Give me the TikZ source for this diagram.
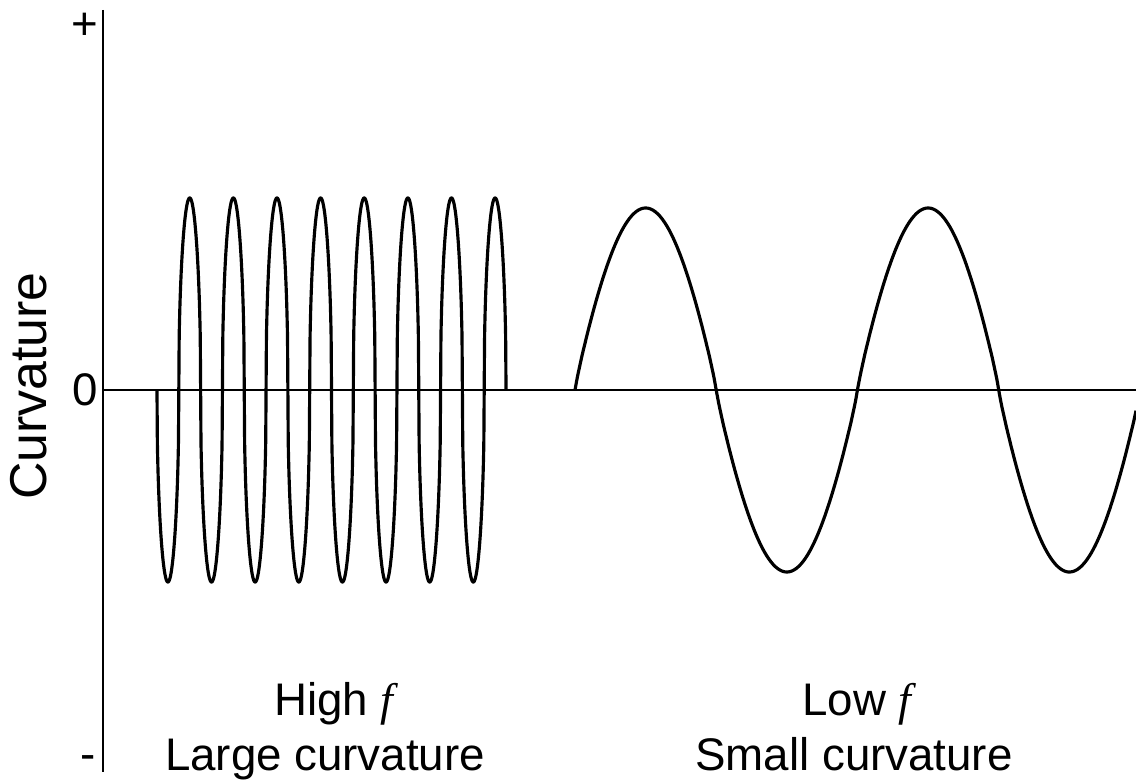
\documentclass[tikz,border=0pt]{standalone}
\usepackage{fontspec}
\setmainfont{Liberation Sans}
\newfontfamily\serifit{Liberation Serif}
\usepackage{tikz}
\usetikzlibrary{positioning}
\newcommand{\fsym}{{\serifit\itshape f}}

\begin{document}
\begin{tikzpicture}[x=0.02cm, y=0.02cm,
  declare function={pw(\s,\p)=sign(\s)*(abs(\s)+0.0001)^\p;},
  axis/.style={line width=1.6pt},
  wave/.style={line width=1.8pt, line join=round},
  lab/.style={font=\fontsize{26}{30}\selectfont, inner sep=0pt},
  captxt/.style={lab, anchor=base, align=center}]
\useasboundingbox (-103,-391) rectangle (1033,390);
% axes
\coordinate (ytop) at (0,380);
\coordinate (ybot) at (0,-382);
\coordinate (xl) at (0,0);
\coordinate (xr) at (1033,0);
\draw[axis] (ytop) -- (ybot);
\draw[axis] (xl) -- (xr);
\node[lab] (plus) at (-18,364) {+};
\node[lab] (zero) at (-18,0) {0};
\node[lab] (minus) at (-15,-373) {-};
\node[lab, font=\fontsize{29.5}{32}\selectfont, rotate=90] (ylab) at (-74,4)
  {Curvature};
% waves, plotted over the phase (high f: 8 periods, low f: 2 periods)
\draw[wave] plot[domain=0:2880, samples=961, smooth]
  ({54+\x*0.121181}, {-192*pw(sin(\x),0.45)});
\draw[wave] plot[domain=0:714.9, samples=239, smooth]
  ({472+\x*0.784737}, {182*pw(sin(\x),0.9)});
% captions
\node[captxt] (high) at (231,-325) {High \fsym};
\node[captxt] (large) at (222,-380) {Large curvature};
\node[captxt] (low) at (754,-325) {Low \fsym};
\node[captxt] (small) at (751,-380) {Small curvature};
\end{tikzpicture}
\end{document}
